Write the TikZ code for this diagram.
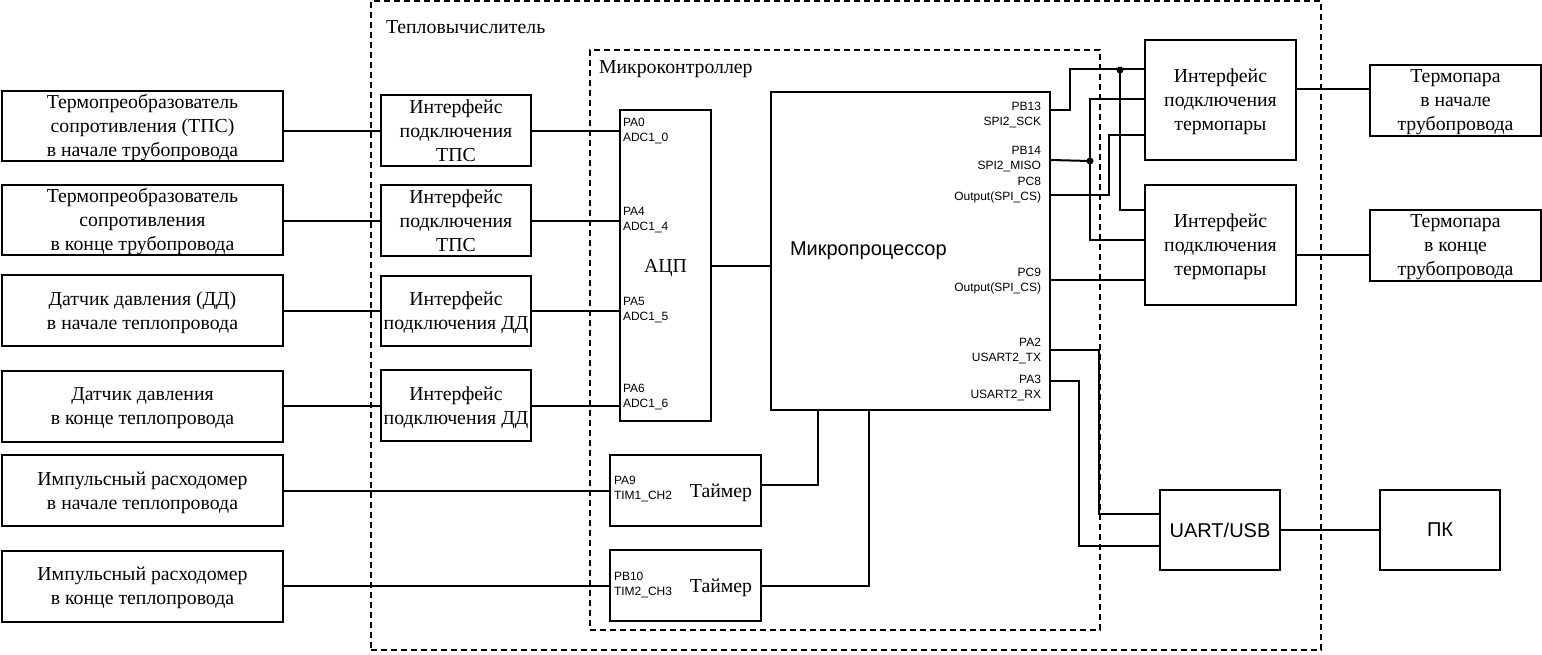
\documentclass[tikz,border=0pt]{standalone}
\usepackage{fontspec}
\setmainfont{Liberation Serif}
\setsansfont{Liberation Sans}
\usetikzlibrary{calc}
\newcommand\fSer{\fontsize{19.8}{24}\selectfont}
\newcommand\fPin{\sffamily\fontsize{12}{15}\selectfont}
\newcommand\fBig{\sffamily\fontsize{20}{23}\selectfont}
\begin{document}
\begin{tikzpicture}[x=1pt,y=-1pt,line width=2pt,
  box/.style={draw,line width=2pt,inner sep=0pt,align=center,font=\fSer,text depth=0pt},
  cont/.style={draw,line width=2pt,dash pattern=on 6pt off 4pt,inner sep=0pt},
  lbl/.style={inner sep=0pt,font=\fSer},
  pinR/.style={inner sep=0pt,align=right,anchor=east,font=\fPin},
  pinL/.style={inner sep=0pt,align=left,anchor=west,font=\fPin},
  dot/.style={circle,fill,inner sep=0pt,minimum size=7pt}]
\useasboundingbox (0,0) rectangle (1542,654);

% containers
\node[cont,minimum width=950pt,minimum height=649pt] (heat) at (846,325.5) {};
\node[cont,minimum width=510pt,minimum height=580pt] (mcuc) at (845,340) {};
\node[lbl,anchor=west] (heatl) at (385,27) {Тепловычислитель};
\node[lbl,anchor=west] (mcul) at (598,69) {Микроконтроллер};

% sensors
\node[box,minimum width=281pt,minimum height=70pt] (s1) at (142.5,125.5) {Термопреобразователь\\сопротивления (ТПС)\\в начале трубопровода};
\node[box,minimum width=281pt,minimum height=70pt] (s2) at (142.5,219.5) {Термопреобразователь\\сопротивления\\в конце трубопровода};
\node[box,minimum width=281pt,minimum height=71pt] (s3) at (142.5,310.5) {Датчик давления (ДД)\\в начале теплопровода};
\node[box,minimum width=281pt,minimum height=71pt] (s4) at (142.5,406) {Датчик давления\\в конце теплопровода};
\node[box,minimum width=281pt,minimum height=71pt] (s5) at (142.5,490.5) {Импульсный расходомер\\в начале теплопровода};
\node[box,minimum width=281pt,minimum height=71pt] (s6) at (142.5,586) {Импульсный расходомер\\в конце теплопровода};

% interfaces
\node[box,minimum width=150pt,minimum height=71pt] (i1) at (456,130.5) {Интерфейс\\подключения\\ТПС};
\node[box,minimum width=150pt,minimum height=71pt] (i2) at (456,220.5) {Интерфейс\\подключения\\ТПС};
\node[box,minimum width=150pt,minimum height=70pt] (i3) at (456,311) {Интерфейс\\подключения ДД};
\node[box,minimum width=150pt,minimum height=71pt] (i4) at (456,405.5) {Интерфейс\\подключения ДД};

% ADC
\node[box,minimum width=91pt,minimum height=311pt] (adc) at (665.5,265.5) {АЦП};
\node[pinL] (p0) at (622,130.5) {PA0\\ADC1\_0};
\node[pinL] (p4) at (622,220.5) {PA4\\ADC1\_4};
\node[pinL] (p5) at (622,310) {PA5\\ADC1\_5};
\node[pinL] (p6) at (622,397) {PA6\\ADC1\_6};

% MCU
\node[box,minimum width=279pt,minimum height=318pt] (mcu) at (910.5,251) {};
\node[inner sep=0pt,anchor=west,font=\fBig] (mcut) at (789,251) {Микропроцессор};
\node[pinR] (q1) at (1042,115) {PB13\\SPI2\_SCK};
\node[pinR] (q2) at (1042,159) {PB14\\SPI2\_MISO};
\node[pinR] (q3) at (1042,190) {PC8\\Output(SPI\_CS)};
\node[pinR] (q4) at (1042,281) {PC9\\Output(SPI\_CS)};
\node[pinR] (q5) at (1042,351) {PA2\\USART2\_TX};
\node[pinR] (q6) at (1042,388) {PA3\\USART2\_RX};

% timers
\node[box,minimum width=151pt,minimum height=71pt] (t1) at (685.5,490.5) {};
\node[box,minimum width=151pt,minimum height=71pt] (t2) at (685.5,585.5) {};
\node[pinL] (tp9) at (613,489) {PA9\\TIM1\_CH2};
\node[pinL] (tp10) at (613,585) {PB10\\TIM2\_CH3};
\node[lbl] (tn1) at (721,493) {Таймер};
\node[lbl] (tn2) at (721,588) {Таймер};

% thermocouple interfaces
\node[box,minimum width=151pt,minimum height=120pt] (th1) at (1220.5,100) {Интерфейс\\подключения\\термопары};
\node[box,minimum width=151pt,minimum height=120pt] (th2) at (1220.5,245) {Интерфейс\\подключения\\термопары};
\node[box,minimum width=171pt,minimum height=71pt] (tc1) at (1455.5,100.5) {Термопара\\в начале\\трубопровода};
\node[box,minimum width=171pt,minimum height=71pt] (tc2) at (1455.5,245.5) {Термопара\\в конце\\трубопровода};

% UART and PC
\node[box,font=\fBig,minimum width=120pt,minimum height=80pt] (uart) at (1220,530) {UART/USB};
\node[box,font=\fBig,minimum width=120pt,minimum height=80pt] (pc) at (1440,530) {ПК};

% left connections
\draw (s1.east |- i1.west) -- (i1.west);
\draw (s2.east |- i2.west) -- (i2.west);
\draw (s3.east |- i3.west) -- (i3.west);
\draw (s4.east |- i4.west) -- (i4.west);
\draw (s5.east |- t1.west) -- (t1.west);
\draw (s6.east |- t2.west) -- (t2.west);
\draw (i1.east) -- (i1.east -| adc.west);
\draw (i2.east) -- (i2.east -| adc.west);
\draw (i3.east) -- (i3.east -| adc.west);
\draw (i4.east) -- (i4.east -| adc.west);
\draw (adc.east) -- (adc.east -| mcu.west);
\draw ([yshift=5.5pt]t1.east) -| ($(mcu.south west)+(48,0)$);
\draw (t2.east) -| ($(mcu.south west)+(99,0)$);

% SPI
\coordinate (dA) at (1120,70);
\coordinate (dB) at (1090,161);
\draw ($(mcu.north east)+(0,19)$) -| ($(th1.north west)+(-74,30)$) -- ($(th1.north west)+(0,30)$);
\draw (dA) |- ($(th2.north west)+(0,26)$);
\draw ($(mcu.north east)+(0,69)$) -- (dB);
\draw ($(th1.north west)+(0,60)$) -| (dB) |- ($(th2.north west)+(0,56)$);
\draw ($(mcu.north east)+(0,104)$) -| ($(th1.north west)+(-35,96)$) -- ($(th1.north west)+(0,96)$);
\draw ($(mcu.north east)+(0,189)$) -- ($(th2.north west)+(0,96)$);
\node[dot] (dotA) at (dA) {};
\node[dot] (dotB) at (dB) {};

% UART
\draw ($(mcu.north east)+(0,259)$) -| ($(uart.west)+(-60,-16)$) -- ($(uart.west)+(0,-16)$);
\draw ($(mcu.north east)+(0,290)$) -| ($(uart.west)+(-80,16)$) -- ($(uart.west)+(0,16)$);
\draw (uart.east) -- (pc.west);

% thermocouples
\draw ($(th1.north east)+(0,50)$) -- ($(tc1.north west)+(0,25)$);
\draw ($(th2.north east)+(0,71)$) -- ($(tc2.north west)+(0,46)$);
\end{tikzpicture}
\end{document}
